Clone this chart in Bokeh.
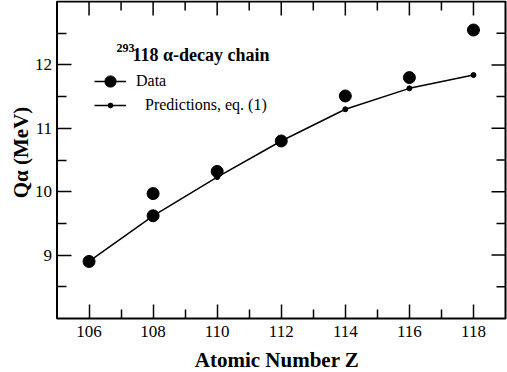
import math
from bokeh.plotting import figure
from bokeh.models import (Range1d, FixedTicker, Legend, LegendItem, Label,
                          LinearAxis, ColumnDataSource)
from bokeh.embed import file_html
from bokeh.resources import INLINE

# ---- data ----
z_data = [106, 108, 108, 110, 112, 114, 116, 118]
q_data = [8.90, 9.97, 9.62, 10.32, 10.80, 11.51, 11.80, 12.55]

z_pred = [106, 108, 110, 112, 114, 116, 118]
q_pred = [8.90, 9.62, 10.23, 10.80, 11.30, 11.63, 11.84]

x_major = [106, 108, 110, 112, 114, 116, 118]
x_minor = [107, 109, 111, 113, 115, 117]
y_major = [9, 10, 11, 12]
y_minor = [8.5, 9.5, 10.5, 11.5, 12.5]

# axis extents of the plot box
X0, X1 = 105, 119
Y0, Y1 = 8, 13

# ---- layout (pixels) ----
W, H = 507, 372
BOX_L, BOX_R, BOX_T, BOX_B = 56.5, 505, 1, 318     # plot box in canvas px
PX_X = (BOX_R - BOX_L) / (X1 - X0)
PX_Y = (BOX_B - BOX_T) / (Y1 - Y0)


def x_at(px):
    return X0 + (px - BOX_L) / PX_X


def y_at(py):
    return Y0 + (BOX_B - py) / PX_Y


FONT = "Liberation Serif"
MAJOR_LEN, MINOR_LEN = 14, 9

p = figure(width=W, height=H, output_backend="svg", toolbar_location=None,
           x_range=Range1d(x_at(0), x_at(W)), y_range=Range1d(y_at(H), y_at(0)),
           x_axis_location=None, y_axis_location=None, min_border=0)
p.grid.visible = False
p.outline_line_color = None
p.background_fill_color = "white"
p.border_fill_color = "white"


def style(ax, major, minor):
    ax.ticker = FixedTicker(ticks=major, minor_ticks=minor)
    ax.axis_line_color = None
    ax.major_tick_in = MAJOR_LEN
    ax.major_tick_out = 0
    ax.minor_tick_in = MINOR_LEN
    ax.minor_tick_out = 0
    ax.major_tick_line_width = 1.5
    ax.minor_tick_line_width = 1.5
    ax.major_tick_line_color = "black"
    ax.minor_tick_line_color = "black"
    ax.major_label_text_font = FONT
    ax.major_label_text_color = "black"
    ax.major_label_text_font_size = "17px"


xa = LinearAxis(fixed_location=Y0)
style(xa, x_major, x_minor)
xa.major_label_standoff = 7
p.add_layout(xa, "below")

ya = LinearAxis(fixed_location=X0)
style(ya, y_major, y_minor)
ya.major_label_standoff = 5
p.add_layout(ya, "left")

# plot box
p.quad(left=[X0], right=[X1], bottom=[Y0], top=[Y1], fill_color=None,
       line_color="black", line_width=2)

# mirrored ticks on top and right edges (inward)
p.ray(x=x_major, y=[Y1] * len(x_major), length=MAJOR_LEN,
      length_units="screen", angle=-math.pi / 2, line_color="black",
      line_width=1.5)
p.ray(x=x_minor, y=[Y1] * len(x_minor), length=MINOR_LEN,
      length_units="screen", angle=-math.pi / 2, line_color="black",
      line_width=1.5)
p.ray(x=[X1] * len(y_major), y=y_major, length=MAJOR_LEN,
      length_units="screen", angle=math.pi, line_color="black", line_width=1.5)
p.ray(x=[X1] * len(y_minor), y=y_minor, length=MINOR_LEN,
      length_units="screen", angle=math.pi, line_color="black", line_width=1.5)

# ---- renderers ----
nan_src = ColumnDataSource(data=dict(x=[float("nan")], y=[float("nan")]))
r_data_line = p.line("x", "y", source=nan_src, line_color="black", line_width=1.5)
r_pred_line = p.line(z_pred, q_pred, line_color="black", line_width=1.5)
r_pred = p.scatter(z_pred, q_pred, size=5, color="black")
r_data = p.scatter(z_data, q_data, size=12, color="black")

common = dict(glyph_width=32, padding=0, margin=0, border_line_color=None,
              background_fill_alpha=0, label_text_font=FONT,
              label_text_font_size="16px", label_text_color="black", spacing=0)
leg1 = Legend(items=[LegendItem(label="Data", renderers=[r_data_line, r_data])],
              location=(94, H - 95), glyph_height=28, label_height=28,
              label_standoff=10, **common)
leg2 = Legend(items=[LegendItem(label="Predictions, eq. (1)",
                                renderers=[r_pred_line, r_pred])],
              location=(94, H - 114), glyph_height=12, label_height=12,
              label_standoff=19, **common)
p.add_layout(leg1)
p.add_layout(leg2)


# ---- texts ----
def label(text, x, y, size, style="bold", **kw):
    return Label(x=x, y=y, x_units="screen", y_units="screen", text=text,
                 text_font=FONT, text_font_style=style, text_font_size=size,
                 text_color="black", **kw)


p.add_layout(label("293", 116, H - 47, "12px", text_baseline="alphabetic"))
p.add_layout(label("118 α-decay chain", 132, H - 54, "18px",
                   text_baseline="alphabetic"))
p.add_layout(label("Atomic Number Z", 276.5, H - 359, "21px",
                   text_align="center", text_baseline="alphabetic"))
p.add_layout(label("Qα (MeV)", 20, H - 152, "21px", text_align="center",
                   text_baseline="alphabetic", angle=math.pi / 2))

open("out.html", "w").write(file_html(p, INLINE))
